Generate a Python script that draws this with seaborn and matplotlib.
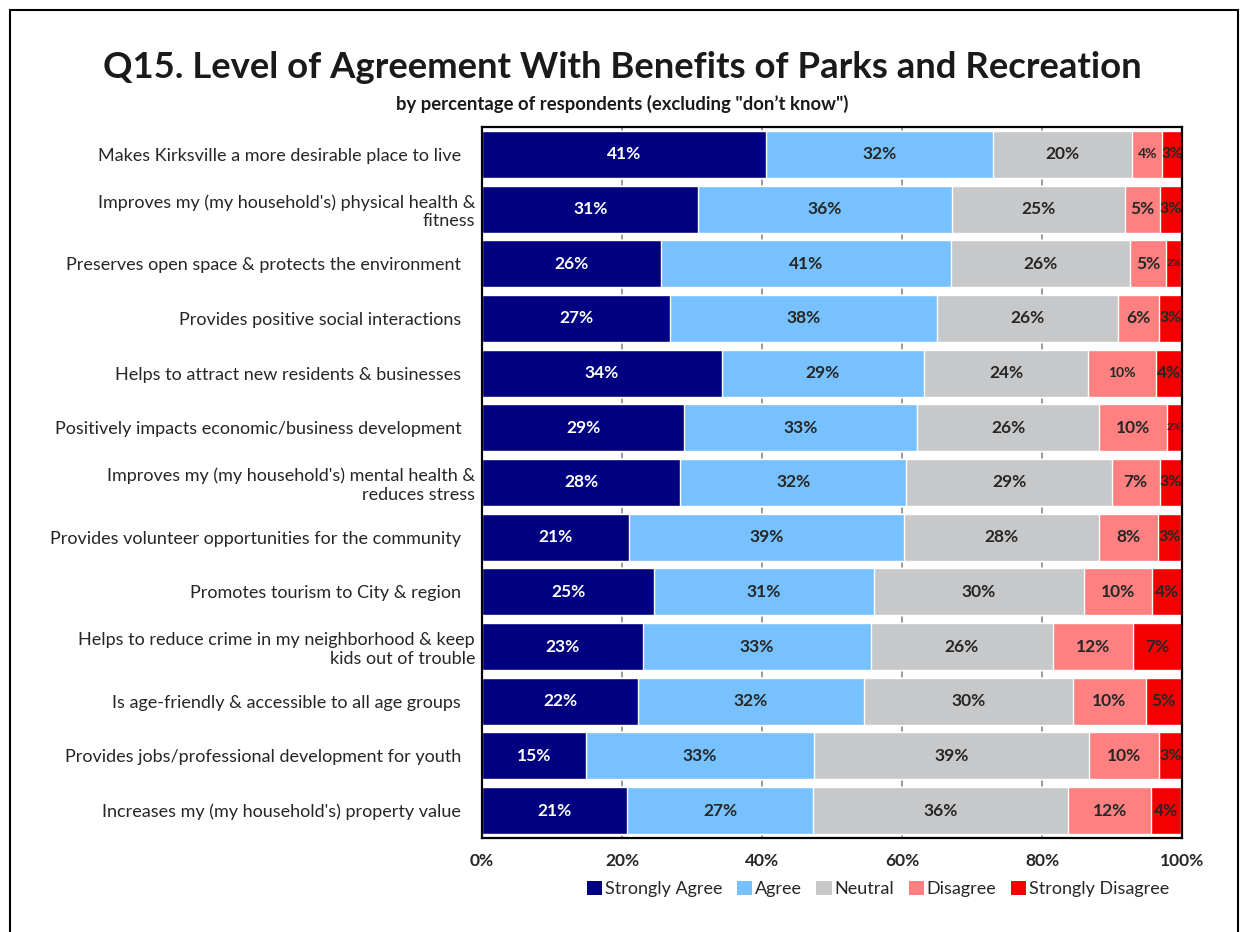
import matplotlib
matplotlib.use("Agg")
import matplotlib.pyplot as plt
import seaborn as sns
import pandas as pd
import numpy as np
from matplotlib.patches import Rectangle, Patch

# ---------------- data ----------------
statements = [
    "Makes Kirksville a more desirable place to live   ",
    "Improves my (my household's) physical health &\nfitness",
    "Preserves open space & protects the environment   ",
    "Provides positive social interactions   ",
    "Helps to attract new residents & businesses   ",
    "Positively impacts economic/business development   ",
    "Improves my (my household's) mental health &\nreduces stress",
    "Provides volunteer opportunities for the community   ",
    "Promotes tourism to City & region   ",
    "Helps to reduce crime in my neighborhood & keep\nkids out of trouble",
    "Is age-friendly & accessible to all age groups   ",
    "Provides jobs/professional development for youth   ",
    "Increases my (my household's) property value   ",
]
categories = ["Strongly Agree", "Agree", "Neutral", "Disagree", "Strongly Disagree"]
strongly_agree = [40.6, 30.9, 25.6, 26.9, 34.3, 28.9, 28.3, 21.0, 24.6, 23.0, 22.3, 14.8, 20.7]
agree          = [32.4, 36.2, 41.4, 38.1, 28.8, 33.3, 32.3, 39.3, 31.4, 32.6, 32.2, 32.6, 26.6]
neutral        = [19.9, 24.8, 25.6, 25.9, 23.5, 26.0, 29.4, 27.9, 30.0, 25.9, 29.9, 39.3, 36.4]
disagree       = [4.3, 4.9, 5.1, 5.8, 9.7, 9.6, 6.8, 8.3, 9.7, 11.5, 10.4, 10.0, 11.9]
strongly_dis   = [2.8, 3.2, 2.2, 3.3, 3.7, 2.2, 3.2, 3.4, 4.4, 7.0, 5.2, 3.3, 4.3]
tick_values = [0, 20, 40, 60, 80, 100]
tick_labels = ["0%", "20%", "40%", "60%", "80%", "100%"]

# ---------------- style ----------------
colors = ["#000080", "#77C1FE", "#C7C8CA", "#FF8080", "#F40000"]
text_colors = ["white", "#262626", "#262626", "#262626", "#262626"]
label_size = 12.5
small_overrides = {(0, 3): 10, (4, 3): 10, (2, 4): 7.5, (5, 4): 7.5, (0, 4): 11,
                   (1, 4): 11.5, (3, 4): 11.5, (6, 4): 11.5, (7, 4): 11.5, (11, 4): 11.5}

sns.set_theme(style="white")
plt.rcParams["font.family"] = ["Lato", "DejaVu Sans"]

fig = plt.figure(figsize=(12.43, 9.32), dpi=100)
ax = fig.add_axes([482 / 1243, 1 - 838 / 932, 700 / 1243, 711 / 932])

series = [strongly_agree, agree, neutral, disagree, strongly_dis]
df = pd.DataFrame({c: s for c, s in zip(categories, series)})
df["Statement"] = statements
cum = df[categories].cumsum(axis=1)

# draw cumulative bars from the widest to the narrowest
for i in range(len(categories) - 1, -1, -1):
    sns.barplot(x=cum[categories[i]], y=df["Statement"], orient="h",
                color=colors[i], saturation=1, width=0.86, ax=ax, zorder=2)

# segment labels
for r in range(len(statements)):
    left = 0.0
    for i, c in enumerate(categories):
        v = df.loc[r, c]
        size = small_overrides.get((r, i), label_size)
        ax.text(left + v / 2, r, f"{int(round(v))}%", ha="center", va="center",
                color=text_colors[i], fontsize=size, fontweight="bold", zorder=5)
        left += v

ax.set_xlim(0, 100)
ax.set_ylim(len(statements) - 0.5, -0.5)
ax.set_xticks(tick_values)
ax.set_xticklabels(tick_labels, fontweight="bold", fontsize=12.5, color="#262626")
ax.set_xlabel("")
ax.set_ylabel("")
ax.tick_params(axis="y", length=0, pad=5, labelsize=13, labelcolor="#262626")
ax.tick_params(axis="x", length=0, pad=11)
for lbl in ax.get_yticklabels():
    lbl.set_multialignment("right")
ax.set_axisbelow(True)
ax.xaxis.grid(True, color="#8A8A8A", lw=1.2, zorder=0)
for sp in ax.spines.values():
    sp.set_visible(True)
    sp.set_color("black")
    sp.set_linewidth(1.6)

# legend
handles = [Patch(facecolor=colors[i], edgecolor="none", label=categories[i]) for i in range(5)]
fig.legend(handles=handles, loc="center", bbox_to_anchor=(878 / 1243, 1 - 889 / 932),
           ncol=5, frameon=False, fontsize=13, handlelength=0.85, handleheight=0.85,
           handletextpad=0.15, columnspacing=0.8, labelcolor="#262626")

# titles
fig.text(622 / 1243, 1 - 68 / 932,
         "Q15. Level of Agreement With Benefits of Parks and Recreation",
         ha="center", va="center", fontsize=26.3, fontweight="bold", color="#1a1a1a")
fig.text(622 / 1243, 1 - 104 / 932,
         "by percentage of respondents (excluding \"don\u2019t know\")",
         ha="center", va="center", fontsize=13.3, fontweight="bold", color="#1a1a1a")

# outer border
fig.patches.append(Rectangle((10 / 1243, -0.01), 1228 / 1243, 1 - 10 / 932 + 0.01,
                             transform=fig.transFigure, fill=False,
                             edgecolor="black", lw=1.5))

fig.savefig("out.png", dpi=100)
